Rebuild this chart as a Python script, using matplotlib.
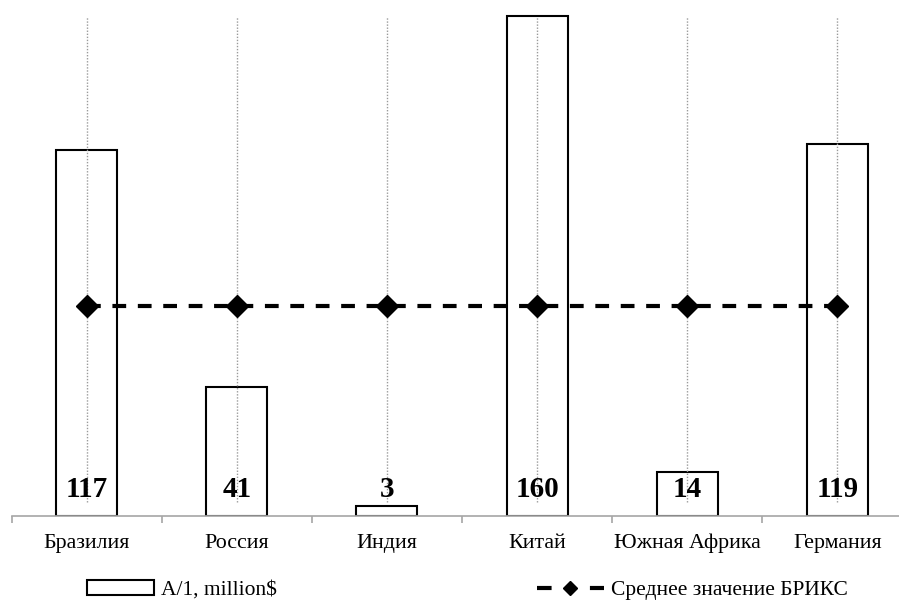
import numpy as np
import matplotlib.pyplot as plt
from matplotlib.patches import Patch
from matplotlib.lines import Line2D

# data
countries = ["Бразилия", "Россия", "Индия", "Китай", "Южная Африка", "Германия"]
values = [117, 41, 3, 160, 14, 119]
brics_mean = [67, 67, 67, 67, 67, 67]
grid_top = 159.5
grid_bottom = 4.2

plt.rcParams['font.family'] = ['Liberation Serif', 'DejaVu Serif']

fig = plt.figure(figsize=(8.99, 6.01), dpi=100)
ax = fig.add_axes([11.5 / 899, 85.5 / 601, 901 / 899, 165 * 3.124 / 601])

x = np.arange(len(countries))

ax.bar(x, values, width=0.407, color='white', edgecolor='black',
       linewidth=1.5, zorder=2)

# vertical dotted lines at every category
ax.vlines(x, grid_bottom, grid_top, colors='#9a9a9a', linestyles=(0, (1, 1.2)),
          linewidth=1.0, zorder=3)

ax.plot(x, brics_mean, color='black', linewidth=3, dashes=(3.3, 2.8),
        dash_capstyle='butt', marker='D', markersize=11, zorder=4)

for xi, v in zip(x, values):
    ax.text(xi, 8.3, str(v), ha='center', va='center', fontsize=21,
            fontweight='bold', zorder=5)

ax.set_xlim(-0.5, 5.5)
ax.set_ylim(0, 165)

for side in ['top', 'right', 'left']:
    ax.spines[side].set_visible(False)
ax.spines['bottom'].set_color('#a6a6a6')
ax.spines['bottom'].set_linewidth(1.2)
ax.set_yticks([])

ax.set_xticks(x)
ax.set_xticklabels(countries, fontsize=15.8)
ax.tick_params(axis='x', which='major', length=0, pad=13)
ax.set_xticks(np.arange(-0.5, 6.0, 1.0), minor=True)
ax.tick_params(axis='x', which='minor', length=5, color='#a6a6a6', width=1.2)

h1 = Patch(facecolor='white', edgecolor='black', linewidth=1.5)
h2 = Line2D([], [], color='black', linewidth=3, dashes=(3.5, 9.2),
            dash_capstyle='butt', marker='D', markersize=7.5)

leg1 = fig.legend([h1], ["A/1, million$"], loc='center left',
                  bbox_to_anchor=(87 / 899, 1 - 590 / 601), frameon=False,
                  fontsize=15.5, handlelength=3.1, handletextpad=0.35,
                  borderpad=0, borderaxespad=0)
leg2 = fig.legend([h2], ["Среднее значение БРИКС"], loc='center left',
                  bbox_to_anchor=(537 / 899, 1 - 590 / 601), frameon=False,
                  fontsize=15.5, handlelength=3.1, handletextpad=0.35,
                  borderpad=0, borderaxespad=0, numpoints=1)

fig.savefig('out.png', dpi=100)
